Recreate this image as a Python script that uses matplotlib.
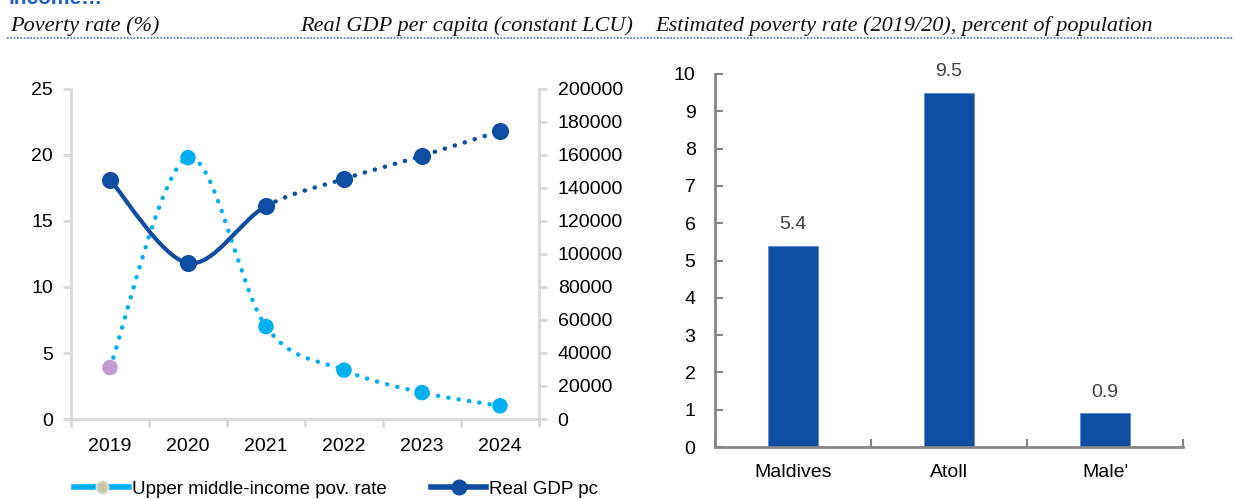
import matplotlib
matplotlib.use("Agg")
import numpy as np
from matplotlib import pyplot as plt
from matplotlib.path import Path
from matplotlib.patches import PathPatch
from matplotlib.lines import Line2D

plt.rcParams['font.family'] = ['Liberation Sans', 'DejaVu Sans']

# data
years = ['2019', '2020', '2021', '2022', '2023', '2024']
pov_rate = [3.9, 19.8, 7.0, 3.7, 2.0, 1.0]
gdp_pc = [145000, 94500, 129000, 145500, 159500, 174500]
regions = ['Maldives', 'Atoll', "Male'"]
region_pov = [5.4, 9.5, 0.9]

LIGHT = '#00b0f0'
DARK = '#0d4ea3'
PURPLE = '#c39bd3'


def smooth_segments(x, y):
    # Excel-like smoothed line: one cubic bezier per segment (Catmull-Rom)
    x = np.asarray(x, float)
    y = np.asarray(y, float)
    n = len(x)
    segs = []
    for i in range(n - 1):
        i0 = max(i - 1, 0)
        i3 = min(i + 2, n - 1)
        c1 = (x[i] + (x[i + 1] - x[i0]) / 6, y[i] + (y[i + 1] - y[i0]) / 6)
        c2 = (x[i + 1] - (x[i3] - x[i]) / 6, y[i + 1] - (y[i3] - y[i]) / 6)
        segs.append([(x[i], y[i]), c1, c2, (x[i + 1], y[i + 1])])
    return segs


def draw_curve(ax, segs, **kw):
    verts = []
    codes = []
    for k, s in enumerate(segs):
        if k == 0:
            verts.append(s[0])
            codes.append(Path.MOVETO)
        verts += s[1:]
        codes += [Path.CURVE4] * 3
    ax.add_patch(PathPatch(Path(verts, codes), fill=False, **kw))


dotted = (0, (0.05, 2.3))

fig = plt.figure(figsize=(12.34, 5.0), dpi=100)

# headers
fig.text(8 / 1234, 1.0 - 3.5 / 500, 'income…', color='#1f5fbf', fontsize=15,
         fontweight='bold', va='baseline')
hdr = dict(family='Liberation Serif', style='italic', fontsize=16,
           color='#111111', va='baseline')
fig.text(10 / 1234, 1 - 31 / 500, 'Poverty rate (%)', **hdr)
fig.text(633 / 1234, 1 - 31 / 500, 'Real GDP per capita (constant LCU)',
         ha='right', **hdr)
fig.text(655 / 1234, 1 - 31 / 500,
         'Estimated poverty rate (2019/20), percent of population', **hdr)
fig.add_artist(Line2D([0.006, 1.0], [1 - 38 / 500, 1 - 38 / 500],
                      color='#4472c4', lw=1.2, ls=(0, (1, 1))))

# left panel
ax = fig.add_axes([71 / 1234, 1 - 419 / 500, 468 / 1234, 330 / 500])
ax2 = ax.twinx()
xs = np.arange(len(years))

draw_curve(ax, smooth_segments(xs, pov_rate), edgecolor=LIGHT, lw=3.2,
           ls=dotted, capstyle='round')
mcol = [PURPLE] + [LIGHT] * (len(years) - 1)
ax.scatter(xs, pov_rate, s=125, c=mcol, zorder=3, linewidths=0)

gsegs = smooth_segments(xs, gdp_pc)
draw_curve(ax2, gsegs[:2], edgecolor=DARK, lw=3.0, capstyle='round')
draw_curve(ax2, gsegs[2:], edgecolor=DARK, lw=3.2, ls=dotted,
           capstyle='round')
ax2.plot(xs, gdp_pc, 'o', color=DARK, ms=11.3, ls='none', zorder=3)

ax.set_xlim(-0.5, len(years) - 0.5)
ax.set_ylim(0, 25)
ax.set_yticks(range(0, 26, 5))
ax2.set_ylim(0, 200000)
ax2.set_yticks(range(0, 200001, 20000))
ax.set_xticks(xs)
ax.set_xticklabels(years)
ax.set_xticks(np.arange(-0.5, len(years), 1), minor=True)
ax.tick_params(axis='x', which='major', length=0, pad=14, labelsize=14)
ax.tick_params(axis='x', which='minor', length=6, width=2, color='#d9d9d9',
               direction='out')
ax.tick_params(axis='y', length=6, width=2, color='#d9d9d9', pad=7,
               labelsize=14)
ax2.tick_params(axis='y', length=6, width=2, color='#d9d9d9', pad=7.5,
                labelsize=14)
for a in (ax, ax2):
    a.spines['top'].set_visible(False)
    for side in ('left', 'right', 'bottom'):
        a.spines[side].set_color('#d9d9d9')
        a.spines[side].set_linewidth(2)
ax.spines['right'].set_visible(False)
ax2.spines['left'].set_visible(False)
ax2.spines['bottom'].set_visible(False)

handles = [
    Line2D([], [], color=LIGHT, lw=4, marker='o', ms=8.5,
           markerfacecolor='#c8c6a8', markeredgecolor='#dcdccc',
           markeredgewidth=1.5),
    Line2D([], [], color=DARK, lw=4, marker='o', ms=10.5,
           markerfacecolor=DARK, markeredgecolor=DARK),
]
fig.legend(handles, ['Upper middle-income pov. rate', 'Real GDP pc'],
           loc='center', bbox_to_anchor=(336 / 1234, 1 - 489 / 500),
           ncol=2, frameon=False, fontsize=13.5, handlelength=2.9,
           handletextpad=0.15, columnspacing=2.4)

# right panel
bx = fig.add_axes([715 / 1234, 1 - 447 / 500, 468 / 1234, 373 / 500])
rx = np.arange(len(regions))
bars = bx.bar(rx, region_pov, width=0.315, color=DARK,
              edgecolor='#5b8ad6', linewidth=0.6)
for b, v in zip(bars, region_pov):
    bx.annotate(f'{v:.1f}', (b.get_x() + b.get_width() / 2, v),
                xytext=(0, 9), textcoords='offset points', ha='center',
                va='bottom', fontsize=14, color='#404040')
bx.set_xlim(-0.5, len(regions) - 0.5)
bx.set_ylim(0, 10)
bx.set_yticks(range(0, 11))
bx.set_xticks(rx)
bx.set_xticklabels(regions)
bx.set_xticks(np.arange(-0.5, len(regions), 1), minor=True)
bx.tick_params(axis='x', which='major', length=0, pad=12.5, labelsize=14)
bx.tick_params(axis='x', which='minor', length=6, width=1.5,
               color='#868686', direction='in')
bx.tick_params(axis='y', length=6, width=1.5, color='#868686',
               direction='in', pad=14, labelsize=14)
for side in ('top', 'right'):
    bx.spines[side].set_visible(False)
for side in ('left', 'bottom'):
    bx.spines[side].set_color('#868686')
    bx.spines[side].set_linewidth(2)

fig.savefig('out.png', dpi=100)
